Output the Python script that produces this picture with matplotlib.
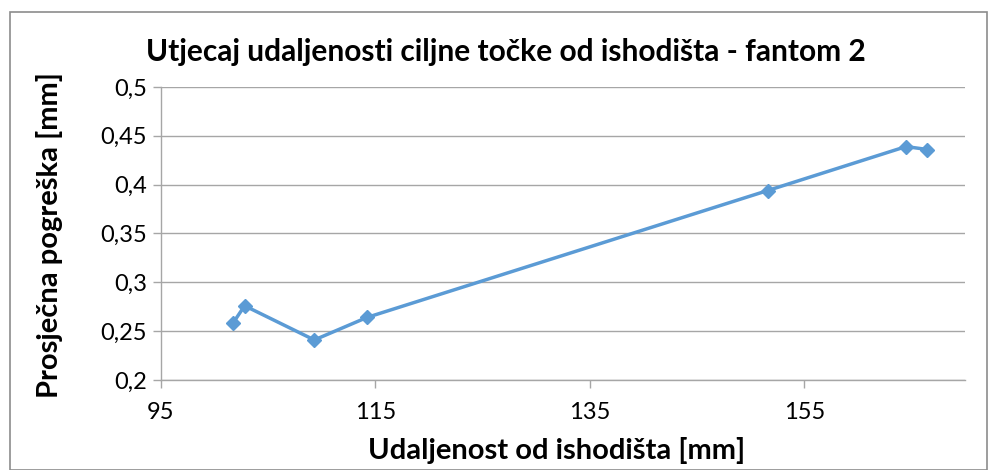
import matplotlib.pyplot as plt
from matplotlib.patches import Rectangle

# udaljenost ciljne tocke od ishodista [mm] i prosjecna pogreska [mm]
udaljenost = [101.7, 102.8, 109.3, 114.2, 151.6, 164.5, 166.5]
pogreska = [0.258, 0.276, 0.241, 0.264, 0.394, 0.439, 0.436]

x_ticks = [95, 115, 135, 155]
y_ticks = [0.2, 0.25, 0.3, 0.35, 0.4, 0.45, 0.5]
y_labels = ["0,2", "0,25", "0,3", "0,35", "0,4", "0,45", "0,5"]

plt.rcParams["font.family"] = ["Lato", "DejaVu Sans"]

fig = plt.figure(figsize=(9.9, 4.7), dpi=100)
ax = fig.add_axes([161 / 990, 1 - 380 / 470, (965 - 161) / 990, (380 - 87) / 470])

# okvir grafikona
fig.patches.append(Rectangle((10 / 990, 0), 977 / 990, 1 - 12 / 470,
                             transform=fig.transFigure, fill=False,
                             edgecolor="#8c8c8c", linewidth=1.2))

ax.plot(udaljenost, pogreska, color="#5B9BD5", linewidth=2.5,
        marker="D", markersize=7.5, markeredgecolor="#5B9BD5", zorder=3)

ax.set_xlim(95, 170)
ax.set_ylim(0.2, 0.5)
ax.set_xticks(x_ticks)
ax.set_xticklabels([str(t) for t in x_ticks])
ax.set_yticks(y_ticks)
ax.set_yticklabels(y_labels)

ax.grid(axis="y", color="#a6a6a6", linewidth=1)
ax.set_axisbelow(True)
for s in ["top", "right"]:
    ax.spines[s].set_visible(False)
for s in ["left", "bottom"]:
    ax.spines[s].set_color("#a6a6a6")
    ax.spines[s].set_linewidth(1)
ax.tick_params(axis="both", colors="#a6a6a6", length=6, width=1,
               labelcolor="black", labelsize=17)
ax.tick_params(axis="x", pad=10)
ax.tick_params(axis="y", pad=4)

fig.text(557 / 990, 1 - 450 / 470, "Udaljenost od ishodišta [mm]",
         ha="center", va="center", fontsize=21, fontweight="bold")
fig.text(50 / 990, 1 - 235 / 470, "Prosječna pogreška [mm]", rotation=90,
         ha="center", va="center", fontsize=21, fontweight="bold")
fig.text(506 / 990, 1 - 52 / 470, "Utjecaj udaljenosti ciljne točke od ishodišta - fantom 2",
         ha="center", va="center", fontsize=21.5, fontweight="bold")

fig.savefig("out.png", dpi=100)
